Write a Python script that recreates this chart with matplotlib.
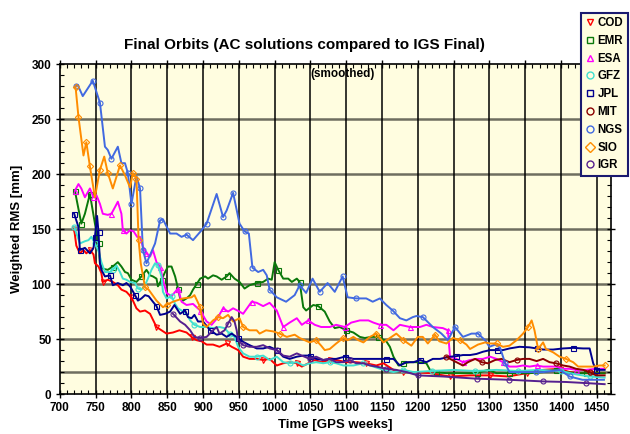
import matplotlib
matplotlib.use("Agg")
import matplotlib.pyplot as plt
from matplotlib.lines import Line2D
from matplotlib.ticker import MultipleLocator

plt.rcParams['font.family'] = ['Liberation Sans', 'DejaVu Sans']

# ---------------- data (GPS week, weighted RMS in mm) ----------------
cod_w = [720, 723, 728, 733, 737, 742, 747, 749, 754, 758, 760, 767, 774, 781, 786, 793, 800, 807, 812, 819,
         826, 835, 842, 849, 858, 867, 877, 884, 891, 898, 905, 914, 923, 933, 940, 949, 956, 965, 975, 984,
         993, 1003, 1012, 1021, 1031, 1038, 1047, 1056, 1065, 1077, 1086, 1100, 1114, 1128, 1142, 1152, 1166,
         1180, 1194, 1217, 1245, 1273, 1301, 1326, 1352, 1375, 1398, 1412, 1426, 1440, 1461]
cod_v = [150, 135, 128, 131, 128, 131, 127, 119, 116, 110, 102, 104, 102, 99, 95, 93, 88, 78, 75, 76,
         73, 61, 58, 55, 56, 58, 56, 52, 49, 48, 45, 45, 43, 46, 43, 40, 34, 32, 32, 31,
         32, 26, 28, 29, 28, 25, 28, 31, 29, 31, 31, 29, 29, 28, 26, 28, 22,
         20, 20, 19, 16, 17, 17, 16, 19, 22, 23, 20, 19, 19, 19]

emr_w = [721, 730, 735, 742, 749, 754, 756, 760, 767, 774, 781, 786, 791, 795, 800, 807, 814, 821, 826, 830,
         835, 837, 842, 847, 851, 856, 861, 865, 868, 872, 877, 882, 886, 891, 896, 903, 907, 914, 919, 926,
         933, 937, 944, 951, 958, 965, 975, 984, 991, 996, 1000, 1005, 1012, 1019, 1024, 1031, 1035, 1040,
         1044, 1054, 1061, 1070, 1077, 1084, 1091, 1100, 1110, 1119, 1126, 1135, 1145, 1156, 1161, 1166,
         1173, 1180, 1189, 1198, 1212, 1217, 1226, 1240, 1254, 1268, 1282, 1298, 1310, 1328, 1356, 1375,
         1393, 1407, 1421, 1435, 1447, 1461]
emr_v = [185, 155, 164, 182, 155, 137, 119, 114, 113, 116, 120, 116, 111, 110, 104, 102, 107, 113, 108, 107,
         105, 98, 104, 111, 116, 116, 107, 96, 87, 85, 87, 90, 95, 100, 105, 107, 105, 108, 107, 104,
         107, 110, 105, 102, 96, 99, 101, 102, 105, 104, 120, 113, 105, 105, 102, 105, 102, 79,
         76, 81, 80, 75, 66, 60, 61, 58, 56, 52, 51, 52, 52, 48, 43, 34,
         26, 28, 29, 29, 28, 22, 20, 19, 19, 19, 19, 22, 19, 19, 19, 20,
         22, 20, 19, 19, 19, 19]

esa_w = [721, 726, 730, 735, 742, 747, 751, 756, 760, 767, 772, 777, 781, 786, 788, 793, 798, 803, 808, 812,
         816, 821, 826, 830, 835, 840, 844, 849, 856, 865, 870, 877, 886, 896, 905, 912, 921, 928, 935, 942,
         951, 956, 968, 975, 984, 993, 1003, 1012, 1021, 1031, 1038, 1047, 1056, 1065, 1077, 1086, 1098,
         1107, 1119, 1131, 1138, 1147, 1156, 1166, 1175, 1189, 1203, 1212, 1221, 1235, 1242, 1245, 1254,
         1263, 1273, 1282, 1291, 1301, 1310, 1319, 1328, 1338, 1347, 1356, 1366, 1375, 1384, 1393, 1403,
         1412, 1421, 1435, 1449, 1461]
esa_v = [185, 191, 187, 179, 187, 179, 181, 173, 164, 163, 164, 170, 175, 164, 149, 146, 149, 148, 143, 143,
         134, 128, 125, 131, 120, 116, 104, 92, 89, 96, 84, 81, 82, 76, 66, 63, 70, 78, 75, 78,
         75, 73, 84, 83, 80, 83, 76, 61, 65, 69, 63, 67, 63, 61, 61, 63, 61,
         65, 67, 67, 65, 63, 63, 58, 63, 61, 61, 63, 61, 60, 58, 34, 32,
         29, 31, 32, 32, 34, 32, 29, 25, 25, 26, 25, 26, 25, 25, 25, 23,
         23, 22, 22, 23, 23]

gfz_w = [720, 728, 735, 740, 744, 749, 754, 758, 763, 770, 774, 779, 784, 788, 793, 798, 805, 809, 814, 819,
         823, 828, 833, 837, 842, 844, 849, 856, 861, 865, 870, 877, 882, 888, 896, 905, 914, 923, 930, 937,
         944, 949, 956, 965, 975, 984, 993, 1003, 1012, 1021, 1031, 1040, 1049, 1058, 1068, 1077, 1086, 1096,
         1110, 1124, 1138, 1152, 1166, 1180, 1194, 1220, 1250, 1280, 1310, 1340, 1370, 1400, 1420, 1440, 1461]
gfz_v = [152, 137, 139, 140, 143, 137, 130, 120, 111, 111, 113, 117, 111, 105, 104, 102, 101, 96, 95, 99,
         105, 113, 119, 117, 107, 93, 87, 89, 82, 78, 76, 73, 67, 63, 61, 61, 60, 61, 60, 55,
         52, 43, 37, 34, 34, 35, 31, 34, 29, 28, 29, 26, 28, 29, 28, 29, 28, 26,
         26, 28, 25, 22, 20, 22, 20, 21, 22, 21, 22, 21, 22, 21, 18, 16, 15]

jpl_w = [720, 726, 728, 735, 742, 747, 749, 752, 754, 756, 758, 763, 770, 774, 781, 788, 793, 798, 805, 809,
         814, 819, 824, 830, 835, 840, 847, 854, 860, 868, 875, 879, 884, 888, 893, 900, 910, 919, 926, 933,
         940, 949, 956, 965, 975, 984, 993, 1003, 1012, 1021, 1031, 1040, 1049, 1058, 1068, 1077, 1086, 1098,
         1110, 1121, 1133, 1145, 1156, 1166, 1175, 1184, 1194, 1203, 1212, 1221, 1231, 1245, 1254, 1263,
         1273, 1282, 1291, 1301, 1310, 1319, 1328, 1342, 1356, 1366, 1375, 1389, 1403, 1417, 1431, 1440,
         1445, 1449, 1461]
jpl_v = [164, 152, 131, 133, 128, 133, 143, 162, 147, 119, 113, 107, 108, 99, 101, 99, 101, 98, 90, 85,
         87, 90, 89, 84, 80, 72, 73, 75, 81, 73, 76, 70, 69, 72, 66, 66, 58, 54, 55, 52,
         55, 51, 47.5, 44.5, 41.5, 41.5, 43, 40, 34, 32, 34, 35, 35, 32, 31, 32, 32, 34,
         32, 32, 32, 32, 32, 32, 26, 29, 29, 31, 29, 32, 32, 34, 34.5, 35.5,
         35.5, 36.5, 38.5, 40, 40, 40, 41.5, 43, 42.5, 41.5, 40.5, 40.5, 41.5, 42, 41.5, 41.5,
         28, 22, 22]

mit_w = [1240, 1245, 1254, 1263, 1270, 1280, 1289, 1298, 1308, 1317, 1328, 1338, 1347, 1356, 1366, 1375,
         1384, 1393, 1403, 1412, 1421, 1431, 1440, 1449, 1461]
mit_v = [34, 32, 29, 26, 29, 32, 29, 28, 31, 32, 29, 31, 32, 32, 30, 32,
         29, 28, 26, 25, 23, 22, 20, 17, 17]

ngs_w = [722, 725, 732, 746, 756, 763, 767, 772, 781, 786, 791, 795, 800, 807, 812, 816, 821, 827, 833, 837,
         840, 844, 854, 863, 870, 877, 886, 898, 905, 919, 928, 933, 942, 951, 958, 964, 969, 977, 984, 989,
         993, 1003, 1016, 1028, 1035, 1044, 1053, 1063, 1074, 1084, 1095, 1102, 1114, 1128, 1137, 1147, 1156,
         1165, 1175, 1184, 1193, 1198, 1207, 1221, 1233, 1242, 1252, 1263, 1275, 1284, 1294, 1300, 1308,
         1315, 1322, 1328, 1340, 1352, 1365, 1375, 1388, 1398, 1412, 1430, 1445, 1460]
ngs_v = [280, 281, 271, 285, 265, 225, 222, 214, 225, 210, 210, 201, 173, 198, 187, 131, 119, 128, 137, 149,
         158, 159, 146, 146, 143, 145, 140, 149, 155, 182, 161, 167, 183, 155, 148, 146, 115, 111, 113, 108,
         95, 88, 84, 90, 99, 92, 105, 93, 101, 93, 107, 88, 87, 87, 84, 87, 81,
         76, 69, 67, 70, 71, 70, 61, 55, 49, 61, 52, 55, 55, 49, 43, 45,
         42, 28, 20, 20, 20, 20, 20, 21, 22, 16, 13, 13, 13]

sio_w = [722, 726, 733, 737, 742, 749, 756, 762, 767, 774, 784, 791, 798, 802, 807, 810, 813, 819, 824, 835,
         844, 849, 858, 872, 884, 888, 896, 900, 905, 914, 921, 928, 935, 942, 951, 956, 965, 975, 979, 988,
         998, 1007, 1017, 1028, 1035, 1049, 1058, 1065, 1070, 1077, 1086, 1096, 1102, 1110, 1117, 1124, 1133,
         1142, 1152, 1161, 1170, 1180, 1191, 1200, 1207, 1214, 1224, 1230, 1240, 1249, 1259, 1268, 1273,
         1284, 1294, 1301, 1310, 1319, 1328, 1338, 1347, 1354, 1359, 1363, 1368, 1375, 1379, 1389, 1398,
         1407, 1417, 1424, 1436, 1445, 1454, 1461]
sio_v = [279, 252, 217, 229, 207, 179, 204, 216, 201, 187, 208, 199, 188, 201, 196, 140, 119, 97, 95, 85,
         79, 81, 84, 87, 88, 90, 79, 64, 61, 67, 70, 69, 72, 66, 69, 61, 58, 58, 55, 58,
         57, 55, 52, 54, 51, 47, 49, 44, 40, 41, 46, 51, 49, 52, 49, 47, 52,
         55, 47, 51, 55, 49, 44, 52, 52, 46, 54, 48, 46, 51, 49, 45, 41,
         45, 47, 46, 46, 43, 44, 49, 55, 61, 67, 58, 41, 47, 41, 38, 34,
         32, 29, 25, 25, 25, 26, 26]

igr_w = [858, 868, 875, 882, 888, 896, 905, 914, 919, 923, 930, 935, 940, 944, 947, 949, 956, 965, 975, 984,
         993, 1003, 1012, 1021, 1031, 1038, 1049, 1058, 1068, 1077, 1086, 1096, 1105, 1114, 1124, 1133, 1142,
         1156, 1170, 1184, 1200, 1235, 1282, 1328, 1375, 1407, 1435, 1461]
igr_v = [73, 66, 63, 58, 52, 51, 52, 58, 61, 55, 58, 64, 70, 66, 58, 49, 44.5, 43, 43, 44.5,
         41.5, 40, 35, 34, 37, 35, 32, 34, 31, 32, 29, 29, 31, 28, 28, 26, 25,
         23, 22, 20, 17, 16, 14, 13, 11.5, 11, 10, 9]

labels = ['COD', 'EMR', 'ESA', 'GFZ', 'JPL', 'MIT', 'NGS', 'SIO', 'IGR']
x_ticks = [700, 750, 800, 850, 900, 950, 1000, 1050, 1100, 1150, 1200, 1250, 1300, 1350, 1400, 1450]
y_ticks = [0, 50, 100, 150, 200, 250, 300]
h_grid = [20, 50, 100, 150, 200, 250]

series = [(cod_w, cod_v), (emr_w, emr_v), (esa_w, esa_v), (gfz_w, gfz_v), (jpl_w, jpl_v),
          (mit_w, mit_v), (ngs_w, ngs_v), (sio_w, sio_v), (igr_w, igr_v)]
colors = ['#FF0000', '#0A780A', '#FF00FF', '#40E0D0', '#000090', '#8B0000', '#4169E1', '#FF8C00', '#55208F']
markers = ['v', 's', '^', 'o', 's', 'o', 'o', 'D', 'o']

# ---------------- figure ----------------
fig = plt.figure(figsize=(6.3, 4.34), dpi=100)
ax = fig.add_axes([0.095, 0.092, 0.875, 0.76])
ax.set_facecolor('#FFFDE0')

for yv in h_grid:
    ax.axhline(yv, color='#6E6E60', lw=1.8, zorder=1)
for xv in x_ticks[1:]:
    ax.axvline(xv, color='black', lw=1.1, zorder=1)

for (w, v), c, m, lab in zip(series, colors, markers, labels):
    ax.plot(w, v, color=c, lw=1.4, marker=m, ms=3.6 if m != 'D' else 3.2, mfc='none', mec=c, mew=0.8,
            markevery=0.06, zorder=3, label=lab)

ax.set_xlim(700, 1470)
ax.set_ylim(0, 300)
ax.set_xticks(x_ticks)
ax.set_yticks(y_ticks)
ax.xaxis.set_minor_locator(MultipleLocator(10))
ax.yaxis.set_minor_locator(MultipleLocator(10))
ax.tick_params(which='major', direction='inout', length=6, width=1, top=True, right=True,
               labelsize=8.5, pad=3)
ax.tick_params(which='minor', direction='in', length=3, width=0.8, top=True, right=True)
for t in ax.get_xticklabels() + ax.get_yticklabels():
    t.set_fontweight('bold')
for s in ax.spines.values():
    s.set_linewidth(1.2)

ax.set_xlabel('Time [GPS weeks]', fontsize=9.5, fontweight='bold', labelpad=3)
ax.set_ylabel('Weighted RMS [mm]', fontsize=9.5, fontweight='bold', labelpad=6)
fig.text(0.484, 0.896, 'Final Orbits (AC solutions compared to IGS Final)', ha='center', va='center',
         fontsize=11, fontweight='bold')
ax.text(1095, 0.97, '(smoothed)', transform=ax.get_xaxis_transform(), ha='center', va='center',
        fontsize=8.5, fontweight='bold', zorder=5)

handles = [Line2D([], [], color=c, marker=m, ls='none', mfc='none', mec=c, ms=5, mew=1)
           for c, m in zip(colors, markers)]
leg = fig.legend(handles, labels, loc='upper left', bbox_to_anchor=(0.922, 0.971),
                 prop={'weight': 'bold', 'size': 8.3}, frameon=True, fancybox=False,
                 handlelength=0.7, handletextpad=0.35, labelspacing=0.5, borderpad=0.4,
                 borderaxespad=0)
leg.get_frame().set_facecolor('#FFFDE0')
leg.get_frame().set_edgecolor('#1A1A70')
leg.get_frame().set_linewidth(1.5)
leg.get_frame().set_alpha(1)

fig.savefig('out.png', dpi=100, facecolor='white')
